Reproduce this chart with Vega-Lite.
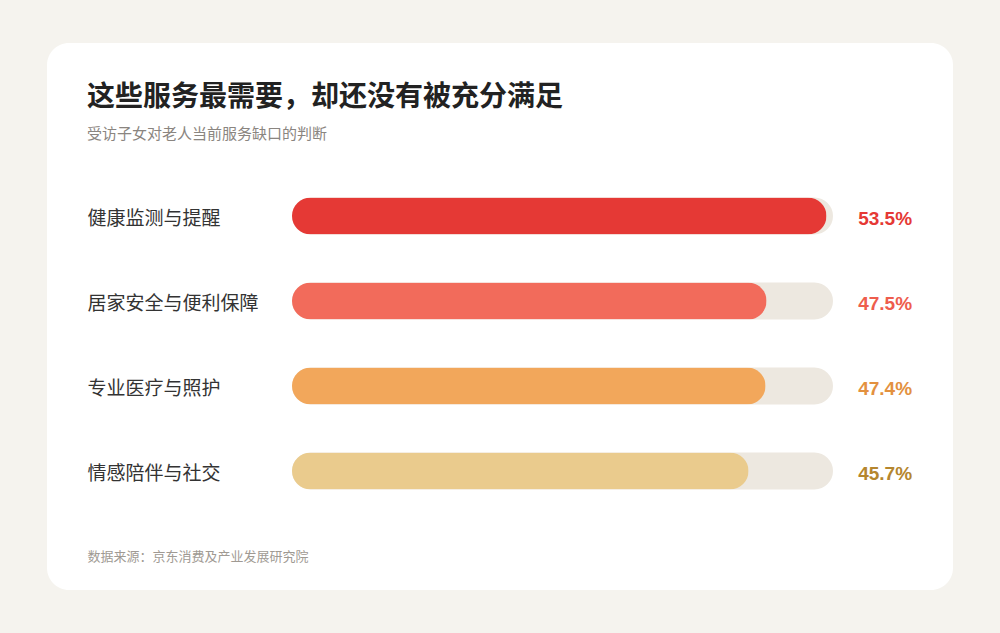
{
  "$schema": "https://vega.github.io/schema/vega-lite/v6.json",
  "width": 906,
  "height": 547,
  "autosize": "none",
  "padding": {"left": 47, "top": 43, "right": 47, "bottom": 43},
  "background": "#f5f3ee",
  "title": {
    "text": "这些服务最需要，却还没有被充分满足",
    "subtitle": "受访子女对老人当前服务缺口的判断",
    "anchor": "start",
    "frame": "group",
    "dx": 40,
    "dy": 103,
    "font": "Noto Sans CJK SC",
    "fontSize": 28,
    "fontWeight": "bold",
    "color": "#222222",
    "subtitleFont": "Noto Sans CJK SC",
    "subtitleFontSize": 15,
    "subtitleColor": "#8a8580",
    "subtitlePadding": 15
  },
  "data": {
    "values": [
      {"service": "健康监测与提醒", "pct": 53.5, "label": "53.5%"},
      {"service": "居家安全与便利保障", "pct": 47.5, "label": "47.5%"},
      {"service": "专业医疗与照护", "pct": 47.4, "label": "47.4%"},
      {"service": "情感陪伴与社交", "pct": 45.7, "label": "45.7%"}
    ]
  },
  "encoding": {
    "y": {
      "field": "service",
      "type": "nominal",
      "sort": null,
      "scale": {"range": [130.5, 470.5], "paddingInner": 0, "paddingOuter": 0},
      "axis": {
        "title": null,
        "domain": false,
        "ticks": false,
        "labelAlign": "left",
        "labelPadding": -40,
        "labelOffset": 3,
        "labelFont": "Noto Sans CJK SC",
        "labelFontSize": 19,
        "labelColor": "#333333",
        "labelBaseline": "middle"
      }
    }
  },
  "layer": [
    {
      "mark": {"type": "bar", "height": 37, "cornerRadius": 18.5, "color": "#ede8e0"},
      "encoding": {
        "x": {
          "datum": 54.15,
          "type": "quantitative",
          "scale": {"domain": [0, 54.15], "range": [245, 786], "nice": false, "zero": true},
          "axis": {
            "title": "数据来源：京东消费及产业发展研究院",
            "titleAnchor": "start",
            "titleX": 40,
            "titleY": -34,
            "titleBaseline": "middle",
            "titleFont": "Noto Sans CJK SC",
            "titleFontSize": 13,
            "titleFontWeight": "normal",
            "titleColor": "#a09a93",
            "domain": false,
            "ticks": false,
            "labels": false,
            "grid": false
          }
        }
      }
    },
    {
      "mark": {"type": "bar", "height": 37, "cornerRadius": 18.5},
      "encoding": {
        "x": {"field": "pct", "type": "quantitative"},
        "color": {
          "field": "service",
          "type": "nominal",
          "scale": {
            "domain": ["健康监测与提醒", "居家安全与便利保障", "专业医疗与照护", "情感陪伴与社交"],
            "range": ["#e53935", "#f26b5b", "#f2a75b", "#eacb8d"]
          },
          "legend": null
        }
      }
    },
    {
      "mark": {
        "type": "text",
        "align": "right",
        "baseline": "middle",
        "dy": 3,
        "font": "Liberation Sans",
        "fontSize": 19,
        "fontWeight": "bold"
      },
      "encoding": {
        "x": {"datum": 62.06, "type": "quantitative"},
        "text": {"field": "label"},
        "fill": {
          "field": "service",
          "type": "nominal",
          "scale": {
            "domain": ["健康监测与提醒", "居家安全与便利保障", "专业医疗与照护", "情感陪伴与社交"],
            "range": ["#e53935", "#ee5d4d", "#e3913f", "#b5862e"]
          },
          "legend": null
        }
      }
    }
  ],
  "config": {
    "view": {"fill": "white", "stroke": null, "cornerRadius": 22},
    "axis": {"grid": false}
  }
}
